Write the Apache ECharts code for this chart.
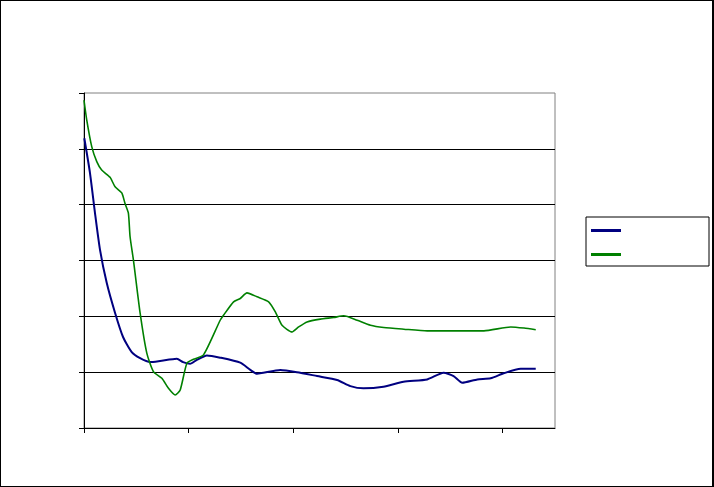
<!DOCTYPE html>
<html>
<head>
<meta charset="utf-8">
<script src="https://cdn.jsdelivr.net/npm/echarts@6/dist/echarts.min.js"></script>
<style>
html,body{margin:0;padding:0;background:#fff;}
#c{width:714px;height:487px;box-sizing:border-box;border:1px solid #000;border-right:2px solid #000;}
</style>
</head>
<body>
<div id="c"></div>
<script>
// x positions and values
var blueX = [0.3,5.7,10.5,15.3,21.7,29.7,37.3,45.6,53.6,63.2,72.7,88.7,94.7,101.4,107.8,117.4,130.1,149.3,158.9,165.3,171.3,187.6,203.5,222.7,241.8,254.5,267,286.1,305.3,327.9,343.5,353.1,361.4,375.8,388.5,401,417.2,431.6];
var blueY = [5.19,4.57,3.85,3.19,2.60,2.06,1.63,1.36,1.25,1.18,1.20,1.24,1.18,1.15,1.22,1.30,1.26,1.17,1.04,0.97,0.99,1.04,1.00,0.93,0.86,0.75,0.71,0.74,0.83,0.87,0.99,0.93,0.81,0.87,0.89,0.98,1.06,1.06];
var greenX = [0,2.6,7.4,12.2,16.9,24.9,29.7,36.1,39.2,42.4,44,47.2,53.6,60,66.3,74.4,80.7,87.1,91.9,98.3,104.6,114.2,130.1,133.3,142.9,149.3,155.7,165.3,176.4,182.8,189.2,198.8,205.1,213.1,225.8,238.6,248.1,261,273.7,286.4,305.6,327.9,350.2,382.1,407.7,420.4,431.6];
var greenY = [5.87,5.52,5.04,4.77,4.62,4.49,4.32,4.21,4.02,3.85,3.43,3.01,2.06,1.34,1.01,0.89,0.71,0.59,0.68,1.16,1.23,1.31,1.93,2.02,2.26,2.32,2.42,2.35,2.26,2.08,1.84,1.72,1.81,1.90,1.95,1.98,2.01,1.93,1.84,1.80,1.77,1.74,1.74,1.74,1.81,1.79,1.76];
var xTicks = [0,100,200,300,400];
var seriesNames = ['A','B'];

function pairs(xs, ys){ return xs.map(function(x,i){ return [x, ys[i]]; }); }

var chart = echarts.init(document.getElementById('c'), null, {renderer:'canvas'});
chart.setOption({
  animation:false,
  backgroundColor:'#fff',
  grid:{left:83,top:92,width:471,height:335,show:true,borderColor:'#808080',borderWidth:1,backgroundColor:'transparent'},
  xAxis:{type:'value',min:0,max:450,interval:100,
    axisLine:{lineStyle:{color:'#000',width:1}},
    axisTick:{show:true,length:5,inside:false,customValues:xTicks,lineStyle:{color:'#000'}},
    axisLabel:{show:false},splitLine:{show:false}},
  yAxis:{type:'value',min:0,max:6,interval:1,
    axisLine:{show:true,lineStyle:{color:'#000',width:1}},
    axisTick:{show:true,length:5,inside:false,lineStyle:{color:'#000'}},
    axisLabel:{show:false},
    splitLine:{show:true,showMaxLine:false,showMinLine:false,lineStyle:{color:'#000',width:1}}},
  legend:{orient:'vertical',left:585,top:216,icon:'rect',itemWidth:30,itemHeight:3,itemGap:21,
    padding:[12,83,10,5],borderColor:'#000',borderWidth:1,backgroundColor:'#fff',
    formatter:function(){return '';},textStyle:{fontSize:3,lineHeight:3},
    data:seriesNames},
  series:[
    {name:seriesNames[0],type:'line',showSymbol:false,smooth:0.2,data:pairs(blueX,blueY),
     lineStyle:{color:'#000080',width:2},itemStyle:{color:'#000080'}},
    {name:seriesNames[1],type:'line',showSymbol:false,smooth:0.2,data:pairs(greenX,greenY),
     lineStyle:{color:'#008000',width:1.6},itemStyle:{color:'#008000'}}
  ]
});
</script>
</body>
</html>
